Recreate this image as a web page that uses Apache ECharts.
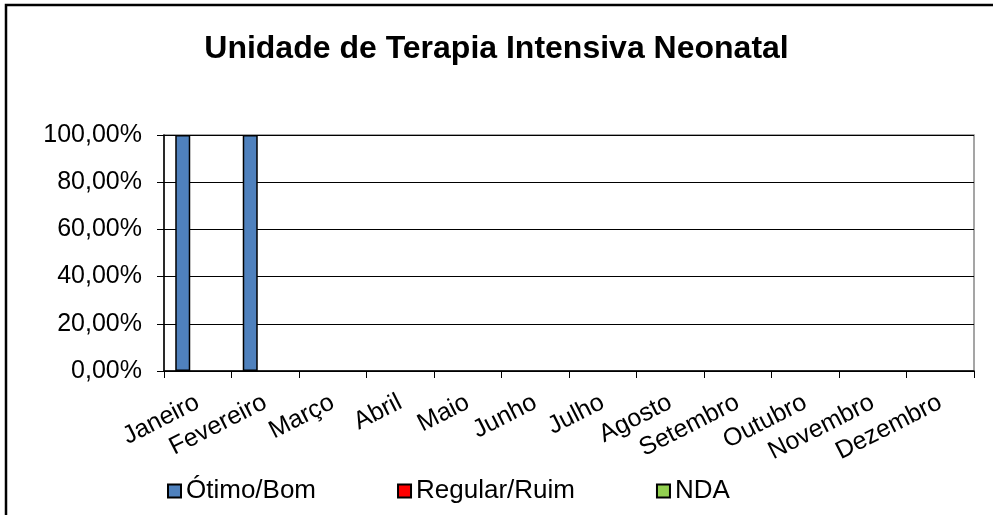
<!DOCTYPE html>
<html>
<head>
<meta charset="utf-8">
<title>Unidade de Terapia Intensiva Neonatal</title>
<script src="https://cdn.jsdelivr.net/npm/echarts@6/dist/echarts.min.js"></script>
<style>
  html, body { margin: 0; padding: 0; background: #fff; }
  #chart { width: 993px; height: 515px; }
</style>
</head>
<body>
<div id="chart"></div>
<script>
// dados
var meses = ['Janeiro', 'Fevereiro', 'Março', 'Abril', 'Maio', 'Junho',
  'Julho', 'Agosto', 'Setembro', 'Outubro', 'Novembro', 'Dezembro'];
var otimoBom = [1, 1, 0, 0, 0, 0, 0, 0, 0, 0, 0, 0];
var regularRuim = [0, 0, 0, 0, 0, 0, 0, 0, 0, 0, 0, 0];
var nda = [0, 0, 0, 0, 0, 0, 0, 0, 0, 0, 0, 0];

var fonte = 'Arial, "Liberation Sans", sans-serif';

var chart = echarts.init(document.getElementById('chart'));

function serie(nome, dados, cor) {
  return {
    name: nome,
    type: 'bar',
    // zero não aparece como barra (igual ao Excel)
    data: dados.map(function (v) { return v === 0 ? '-' : v; }),
    barGap: '0%',
    barCategoryGap: '33.3%',
    itemStyle: { color: cor, borderColor: '#000', borderWidth: 1.5 },
    emphasis: { disabled: true }
  };
}

var option = {
  animation: false,
  textStyle: { fontFamily: fonte },
  title: {
    text: 'Unidade de Terapia Intensiva Neonatal',
    left: 'center',
    top: 28,
    textStyle: { fontFamily: fonte, fontSize: 32, fontWeight: 'bold', color: '#000' }
  },
  // borda externa (só esquerda e topo)
  graphic: [{
    type: 'polyline',
    shape: { points: [[6, 515], [6, 5], [993, 5]] },
    style: { stroke: '#000', lineWidth: 2.5, fill: null }
  }],
  legend: {
    left: 162,
    top: 473,
    itemWidth: 13,
    itemHeight: 13,
    itemGap: 81,
    icon: 'rect',
    textStyle: { fontFamily: fonte, fontSize: 26, color: '#000' },
    data: ['Ótimo/Bom', 'Regular/Ruim', 'NDA']
  },
  grid: { left: 164, right: 19, top: 135, bottom: 144, show: true, borderColor: '#888', borderWidth: 1.5 },
  xAxis: {
    type: 'category',
    data: meses,
    axisLine: { lineStyle: { color: '#000', width: 1.5 } },
    axisTick: { show: true, length: 7, alignWithLabel: false, lineStyle: { color: '#000' } },
    axisLabel: { rotate: 27, fontSize: 25, color: '#000', margin: 30, interval: 0 }
  },
  yAxis: {
    type: 'value',
    min: 0,
    max: 1,
    interval: 0.2,
    axisLine: { show: true, lineStyle: { color: '#000', width: 1.5 } },
    axisTick: { show: true, length: 7, lineStyle: { color: '#000' } },
    splitLine: { lineStyle: { color: '#000', width: 1 } },
    axisLabel: {
      fontSize: 25,
      color: '#000',
      margin: 22,
      formatter: function (v) { return (v * 100).toFixed(2).replace('.', ',') + '%'; }
    }
  },
  series: [
    serie('Ótimo/Bom', otimoBom, '#4F81BD'),
    serie('Regular/Ruim', regularRuim, '#FF0000'),
    serie('NDA', nda, '#92D050')
  ]
};

chart.setOption(option);
</script>
</body>
</html>
